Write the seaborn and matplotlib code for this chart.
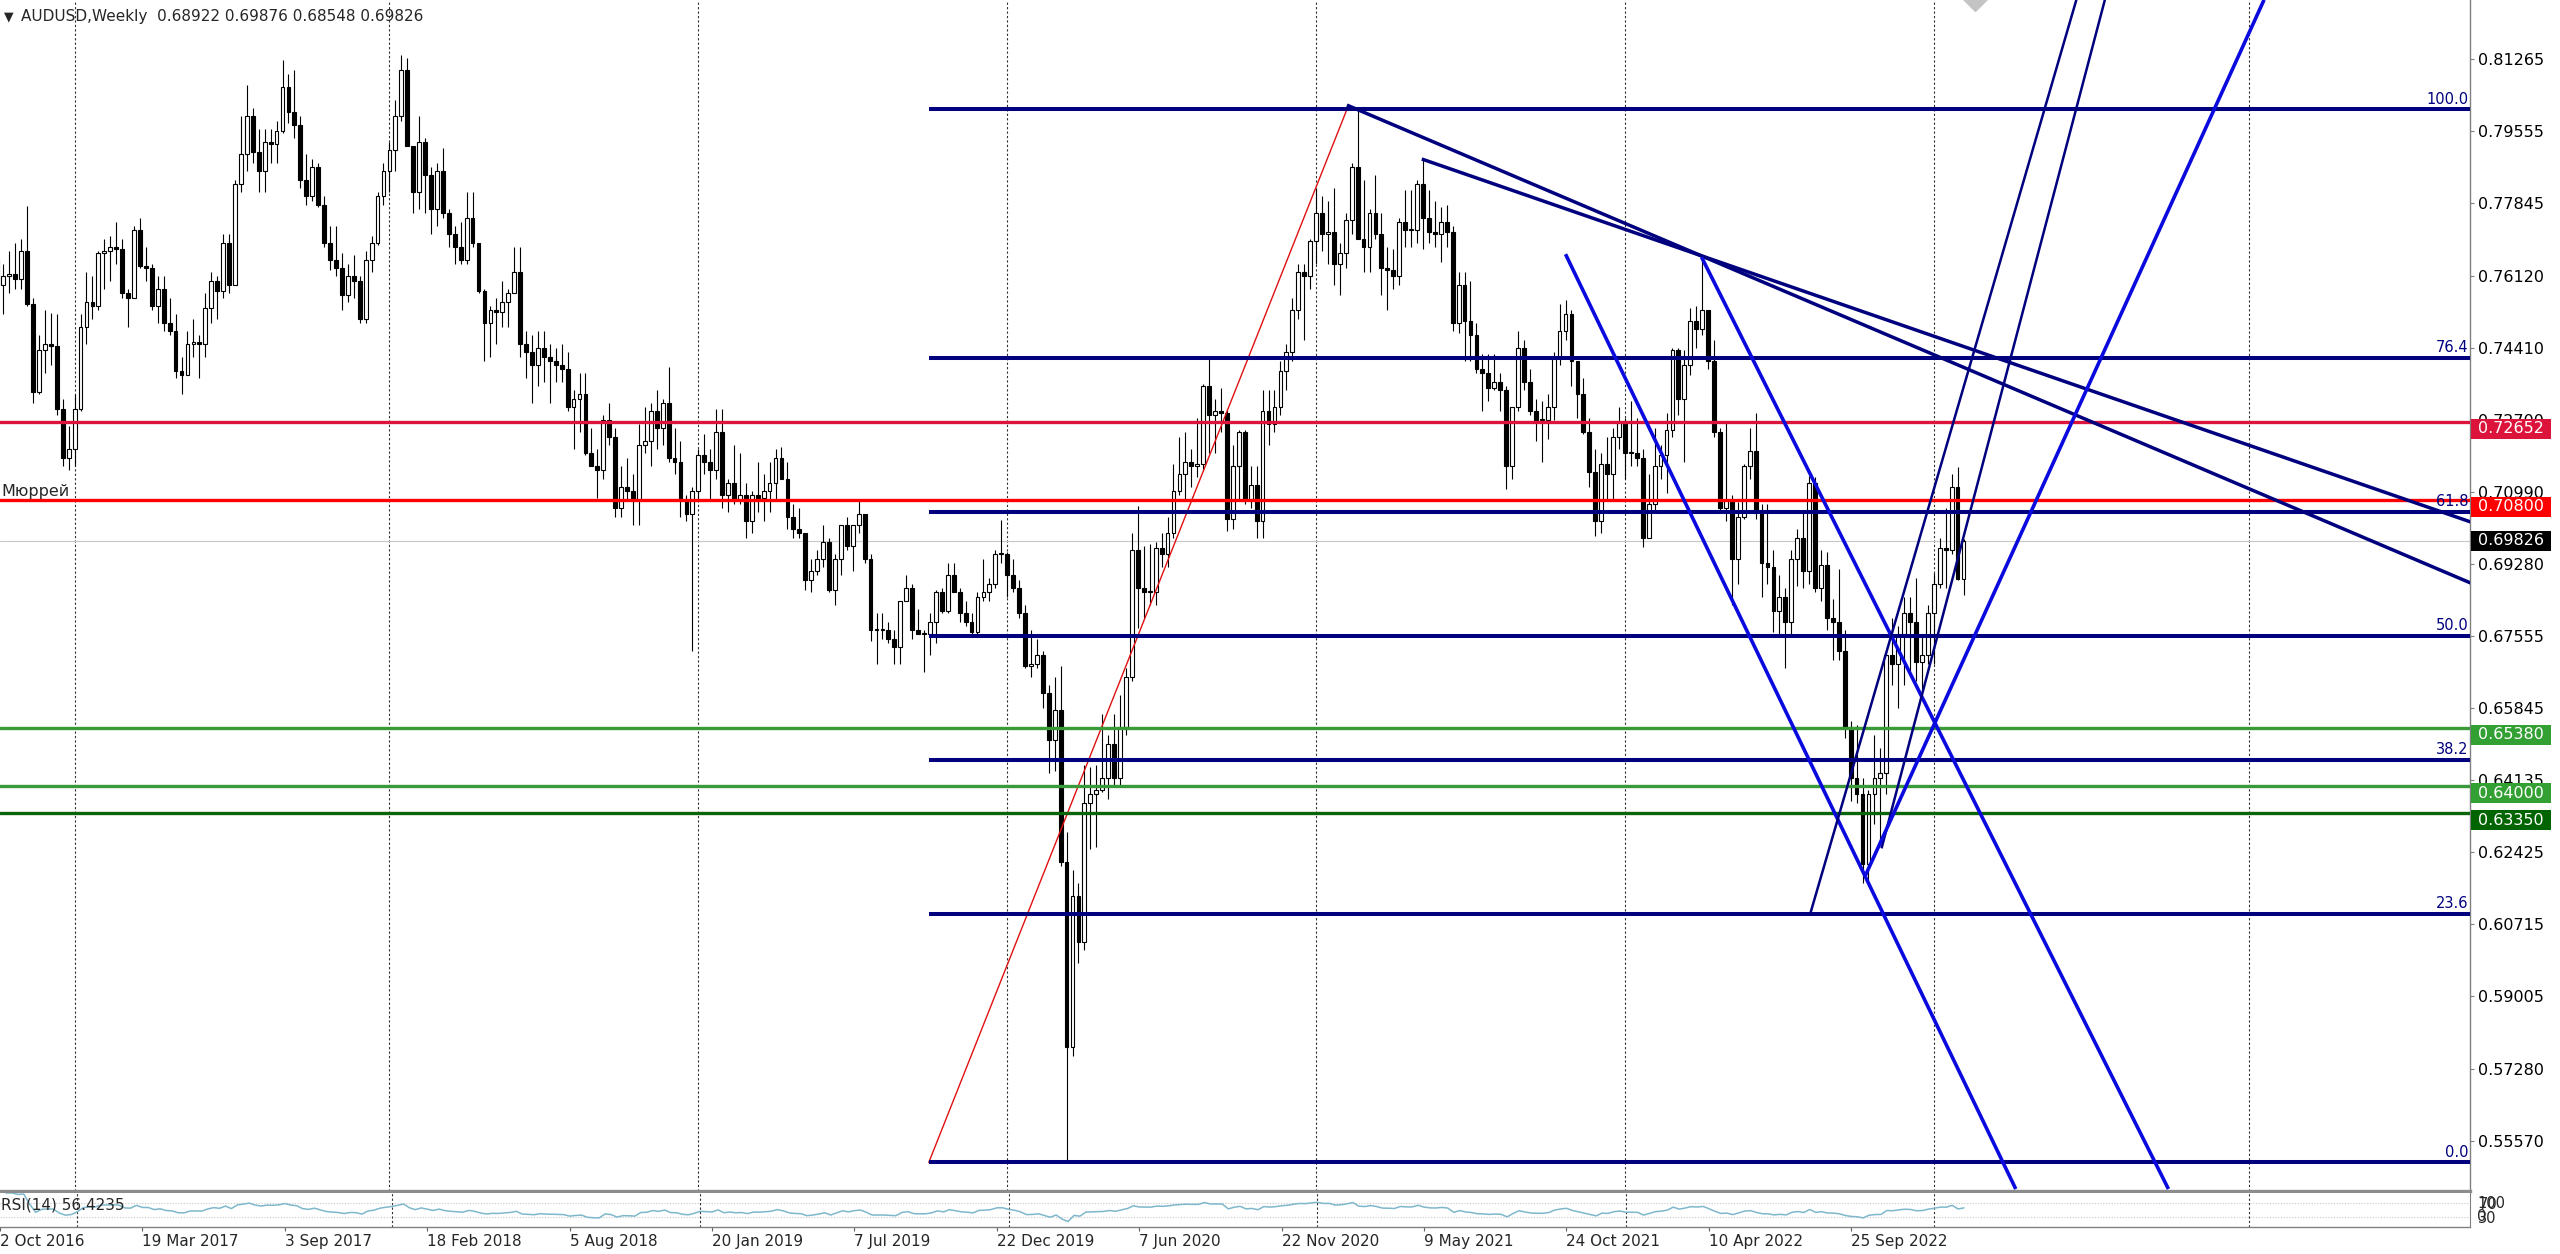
import numpy as np
import pandas as pd
import matplotlib
matplotlib.use("Agg")
import matplotlib.pyplot as plt
from matplotlib.patches import Rectangle
from matplotlib.transforms import blended_transform_factory
import seaborn as sns

# weekly AUDUSD bars, first bar on this Sunday
first_week = "2016-10-02"
first_open = 0.7650

closes = [
    # 2016
    0.7590, 0.7610, 0.7615, 0.7605, 0.7670, 0.7545, 0.7335, 0.7435, 0.7450, 0.7445,
    0.7295, 0.7180, 0.7200,
    # 2017
    0.7295, 0.7490, 0.7550, 0.7540, 0.7665, 0.7670, 0.7680,
    0.7675, 0.7570, 0.7560, 0.7720, 0.7635, 0.7630, 0.7540, 0.7580, 0.7500, 0.7480,
    0.7385, 0.7375, 0.7450, 0.7455, 0.7450, 0.7535, 0.7600, 0.7575, 0.7690, 0.7590,
    0.7830, 0.7900, 0.7990, 0.7905, 0.7860, 0.7930, 0.7925, 0.7955, 0.8060, 0.8000,
    0.7970, 0.7840, 0.7800, 0.7870, 0.7780, 0.7690, 0.7650, 0.7630, 0.7565, 0.7610,
    0.7600, 0.7510, 0.7650, 0.7690, 0.7800,
    # 2018
    0.7860, 0.7910, 0.7990, 0.8100, 0.7920,
    0.7810, 0.7930, 0.7850, 0.7770, 0.7860, 0.7760, 0.7710, 0.7680, 0.7650, 0.7750,
    0.7690, 0.7575, 0.7500, 0.7530, 0.7525, 0.7550, 0.7570, 0.7620, 0.7450, 0.7430,
    0.7400, 0.7440, 0.7420, 0.7410, 0.7400, 0.7390, 0.7300, 0.7320, 0.7330, 0.7190,
    0.7160, 0.7150, 0.7270, 0.7230, 0.7060, 0.7110, 0.7100, 0.7080, 0.7210, 0.7220,
    0.7290, 0.7250, 0.7310, 0.7180, 0.7170, 0.7080, 0.7045, 0.7100,
    # 2019
    0.7185, 0.7170,
    0.7150, 0.7240, 0.7090, 0.7120, 0.7080, 0.7090, 0.7030, 0.7090, 0.7085, 0.7100,
    0.7120, 0.7180, 0.7130, 0.7040, 0.7010, 0.7000, 0.6890, 0.6910, 0.6940, 0.6980,
    0.6865, 0.6940, 0.7020, 0.6970, 0.7020, 0.7045, 0.6940, 0.6770, 0.6770, 0.6770,
    0.6750, 0.6730, 0.6840, 0.6870, 0.6770, 0.6760, 0.6760, 0.6790, 0.6860, 0.6815,
    0.6900, 0.6860, 0.6810, 0.6790, 0.6765, 0.6850, 0.6860, 0.6880, 0.6950, 0.6950,
    # 2020
    0.6900, 0.6870, 0.6810, 0.6685, 0.6690, 0.6710, 0.6620, 0.6510, 0.6580, 0.6220,
    0.5780, 0.6140, 0.6030, 0.6360, 0.6380, 0.6390, 0.6420, 0.6500, 0.6420, 0.6540,
    0.6660, 0.6960, 0.6870, 0.6860, 0.6860, 0.6965, 0.6950, 0.7000, 0.7100, 0.7140,
    0.7170, 0.7160, 0.7165, 0.7350, 0.7280, 0.7290, 0.7285, 0.7035, 0.7160, 0.7240,
    0.7080, 0.7115, 0.7030, 0.7290, 0.7260, 0.7300, 0.7385, 0.7430, 0.7530, 0.7620,
    0.7610, 0.7695,
    # 2021
    0.7760, 0.7710, 0.7715, 0.7640, 0.7665, 0.7745, 0.7870, 0.7700,
    0.7680, 0.7760, 0.7710, 0.7630, 0.7625, 0.7610, 0.7740, 0.7720, 0.7720, 0.7830,
    0.7750, 0.7715, 0.7710, 0.7740, 0.7715, 0.7500, 0.7590, 0.7505, 0.7470, 0.7390,
    0.7380, 0.7345, 0.7360, 0.7340, 0.7160, 0.7300, 0.7440, 0.7360, 0.7290, 0.7270,
    0.7270, 0.7300, 0.7420, 0.7480, 0.7520, 0.7410, 0.7330, 0.7240, 0.7145, 0.7030,
    0.7165, 0.7140, 0.7230, 0.7265,
    # 2022
    0.7190, 0.7190, 0.7180, 0.6990, 0.7070, 0.7160,
    0.7185, 0.7245, 0.7435, 0.7320, 0.7400, 0.7505, 0.7485, 0.7530, 0.7410, 0.7240,
    0.7060, 0.7080, 0.6940, 0.7040, 0.7160, 0.7195, 0.7050, 0.6930, 0.6920, 0.6815,
    0.6850, 0.6790, 0.6940, 0.6990, 0.6910, 0.7120, 0.6870, 0.6925, 0.6800, 0.6790,
    0.6720, 0.6540, 0.6420, 0.6380, 0.6215, 0.6380, 0.6420, 0.6430, 0.6710, 0.6690,
    0.6760, 0.6810, 0.6790, 0.6695, 0.6710, 0.6810,
    # 2023
    0.6880, 0.6965, 0.6960, 0.7110,
    0.6892, 0.69826,
]

highs = [
    0.7733, 0.7640, 0.7670, 0.7690, 0.7700, 0.7778, 0.7560, 0.7470, 0.7530, 0.7523,
    0.7520, 0.7320, 0.7255, 0.7330, 0.7520, 0.7620, 0.7610, 0.7670, 0.7700, 0.7705,
    0.7740, 0.7700, 0.7580, 0.7730, 0.7750, 0.7680, 0.7640, 0.7610, 0.7610, 0.7560,
    0.7520, 0.7420, 0.7480, 0.7510, 0.7470, 0.7570, 0.7620, 0.7610, 0.7710, 0.7710,
    0.7840, 0.7990, 0.8065, 0.8010, 0.7960, 0.7960, 0.7960, 0.7980, 0.8125, 0.8090,
    0.8100, 0.7990, 0.7900, 0.7890, 0.7880, 0.7800, 0.7730, 0.7730, 0.7665, 0.7640,
    0.7660, 0.7610, 0.7670, 0.7705, 0.7810, 0.7880, 0.7930, 0.8030, 0.8136, 0.8130,
    0.7920, 0.7990, 0.7940, 0.7870, 0.7880, 0.7915, 0.7770, 0.7730, 0.7740, 0.7810,
    0.7810, 0.7690, 0.7580, 0.7540, 0.7560, 0.7600, 0.7580, 0.7680, 0.7680, 0.7480,
    0.7470, 0.7480, 0.7480, 0.7450, 0.7440, 0.7450, 0.7430, 0.7340, 0.7380, 0.7380,
    0.7250, 0.7200, 0.7280, 0.7310, 0.7250, 0.7160, 0.7180, 0.7140, 0.7260, 0.7300,
    0.7310, 0.7340, 0.7320, 0.7394, 0.7250, 0.7220, 0.7090, 0.7110, 0.7200, 0.7235,
    0.7200, 0.7295, 0.7295, 0.7130, 0.7210, 0.7190, 0.7120, 0.7100, 0.7170, 0.7140,
    0.7170, 0.7200, 0.7205, 0.7170, 0.7070, 0.7060, 0.7000, 0.6940, 0.6960, 0.7020,
    0.6990, 0.6950, 0.7010, 0.7040, 0.7020, 0.7080, 0.7040, 0.6950, 0.6810, 0.6810,
    0.6790, 0.6770, 0.6840, 0.6900, 0.6880, 0.6820, 0.6770, 0.6810, 0.6865, 0.6870,
    0.6930, 0.6930, 0.6870, 0.6840, 0.6810, 0.6860, 0.6940, 0.6895, 0.6960, 0.7032,
    0.6955, 0.6940, 0.6890, 0.6830, 0.6770, 0.6750, 0.6720, 0.6640, 0.6660, 0.6685,
    0.6290, 0.6200, 0.6170, 0.6450, 0.6445, 0.6450, 0.6570, 0.6520, 0.6570, 0.6615,
    0.6680, 0.7000, 0.7065, 0.6970, 0.6975, 0.6980, 0.7000, 0.7040, 0.7165, 0.7230,
    0.7240, 0.7200, 0.7275, 0.7355, 0.7415, 0.7320, 0.7345, 0.7295, 0.7210, 0.7245,
    0.7245, 0.7160, 0.7160, 0.7340, 0.7340, 0.7340, 0.7410, 0.7450, 0.7560, 0.7640,
    0.7640, 0.7700, 0.7820, 0.7800, 0.7790, 0.7820, 0.7690, 0.7760, 0.7880, 0.8007,
    0.7840, 0.7770, 0.7850, 0.7760, 0.7680, 0.7675, 0.7750, 0.7815, 0.7815, 0.7840,
    0.7890, 0.7815, 0.7790, 0.7775, 0.7780, 0.7730, 0.7620, 0.7620, 0.7600, 0.7500,
    0.7425, 0.7425, 0.7425, 0.7380, 0.7350, 0.7300, 0.7480, 0.7460, 0.7390, 0.7320,
    0.7315, 0.7330, 0.7430, 0.7545, 0.7555, 0.7530, 0.7370, 0.7370, 0.7275, 0.7200,
    0.7190, 0.7230, 0.7250, 0.7300, 0.7275, 0.7315, 0.7275, 0.7200, 0.7140, 0.7250,
    0.7210, 0.7285, 0.7440, 0.7440, 0.7435, 0.7535, 0.7540, 0.7660, 0.7500, 0.7460,
    0.7250, 0.7265, 0.7090, 0.7075, 0.7165, 0.7250, 0.7285, 0.7070, 0.7070, 0.6960,
    0.6900, 0.6870, 0.6960, 0.7010, 0.7050, 0.7137, 0.7135, 0.6960, 0.6955, 0.6845,
    0.6915, 0.6770, 0.6555, 0.6545, 0.6420, 0.6390, 0.6520, 0.6490, 0.6720, 0.6800,
    0.6780, 0.6850, 0.6850, 0.6895, 0.6755, 0.6830, 0.6905, 0.6990, 0.7060, 0.7140,
    0.7158, 0.69876,
]

lows = [
    0.7560, 0.7520, 0.7570, 0.7580, 0.7580, 0.7540, 0.7310, 0.7330, 0.7380, 0.7400,
    0.7280, 0.7160, 0.7150, 0.7160, 0.7290, 0.7450, 0.7510, 0.7530, 0.7580, 0.7600,
    0.7640, 0.7560, 0.7490, 0.7560, 0.7630, 0.7600, 0.7530, 0.7500, 0.7480, 0.7470,
    0.7370, 0.7330, 0.7375, 0.7420, 0.7370, 0.7420, 0.7500, 0.7510, 0.7560, 0.7570,
    0.7590, 0.7810, 0.7860, 0.7880, 0.7810, 0.7810, 0.7880, 0.7880, 0.7950, 0.7975,
    0.7940, 0.7820, 0.7780, 0.7790, 0.7775, 0.7680, 0.7625, 0.7610, 0.7530, 0.7550,
    0.7560, 0.7500, 0.7500, 0.7620, 0.7685, 0.7780, 0.7810, 0.7860, 0.7980, 0.7920,
    0.7760, 0.7770, 0.7760, 0.7710, 0.7730, 0.7750, 0.7680, 0.7640, 0.7640, 0.7640,
    0.7680, 0.7570, 0.7410, 0.7420, 0.7450, 0.7490, 0.7490, 0.7570, 0.7420, 0.7370,
    0.7310, 0.7350, 0.7360, 0.7310, 0.7360, 0.7360, 0.7290, 0.7200, 0.7240, 0.7185,
    0.7160, 0.7085, 0.7130, 0.7210, 0.7040, 0.7040, 0.7080, 0.7020, 0.7020, 0.7190,
    0.7160, 0.7200, 0.7210, 0.7170, 0.7140, 0.7040, 0.7030, 0.6720, 0.7080, 0.7140,
    0.7080, 0.7130, 0.7060, 0.7050, 0.7070, 0.7070, 0.6990, 0.7000, 0.7050, 0.7030,
    0.7050, 0.7080, 0.7130, 0.7010, 0.6990, 0.6990, 0.6865, 0.6860, 0.6900, 0.6920,
    0.6860, 0.6830, 0.6900, 0.6960, 0.6910, 0.7000, 0.6930, 0.6745, 0.6690, 0.6750,
    0.6740, 0.6690, 0.6690, 0.6840, 0.6750, 0.6760, 0.6670, 0.6710, 0.6740, 0.6810,
    0.6810, 0.6860, 0.6790, 0.6780, 0.6755, 0.6760, 0.6840, 0.6840, 0.6870, 0.6930,
    0.6850, 0.6860, 0.6800, 0.6680, 0.6660, 0.6680, 0.6585, 0.6430, 0.6435, 0.6210,
    0.5506, 0.5760, 0.5980, 0.6010, 0.6250, 0.6255, 0.6385, 0.6370, 0.6400, 0.6400,
    0.6520, 0.6650, 0.6775, 0.6800, 0.6830, 0.6830, 0.6920, 0.6920, 0.6990, 0.7090,
    0.7080, 0.7110, 0.7135, 0.7150, 0.7190, 0.7190, 0.7240, 0.7005, 0.7010, 0.7080,
    0.7070, 0.7060, 0.6990, 0.6990, 0.7210, 0.7240, 0.7280, 0.7340, 0.7410, 0.7510,
    0.7460, 0.7580, 0.7640, 0.7670, 0.7640, 0.7590, 0.7565, 0.7630, 0.7710, 0.7700,
    0.7620, 0.7620, 0.7700, 0.7565, 0.7530, 0.7580, 0.7590, 0.7680, 0.7680, 0.7690,
    0.7675, 0.7690, 0.7680, 0.7645, 0.7680, 0.7480, 0.7475, 0.7410, 0.7410, 0.7380,
    0.7290, 0.7315, 0.7340, 0.7290, 0.7105, 0.7130, 0.7290, 0.7340, 0.7280, 0.7220,
    0.7170, 0.7225, 0.7270, 0.7400, 0.7460, 0.7350, 0.7275, 0.7235, 0.7110, 0.6993,
    0.7000, 0.7080, 0.7080, 0.7200, 0.7130, 0.7160, 0.7160, 0.6968, 0.6990, 0.7050,
    0.7130, 0.7095, 0.7230, 0.7280, 0.7170, 0.7375, 0.7440, 0.7470, 0.7390, 0.7230,
    0.7055, 0.7030, 0.6830, 0.6880, 0.7035, 0.7130, 0.7035, 0.6850, 0.6880, 0.6765,
    0.6760, 0.6680, 0.6755, 0.6875, 0.6870, 0.6880, 0.6860, 0.6840, 0.6770, 0.6700,
    0.6700, 0.6515, 0.6365, 0.6360, 0.6170, 0.6170, 0.6310, 0.6270, 0.6380, 0.6640,
    0.6585, 0.6640, 0.6670, 0.6650, 0.6630, 0.6690, 0.6690, 0.6870, 0.6870, 0.6950,
    0.6890, 0.68548,
]

# fibonacci retracement drawn from the 2020 low to the 2021 high
fib_low = 0.5506
fib_high = 0.8007
fib_pcts = [0.0, 23.6, 38.2, 50.0, 61.8, 76.4, 100.0]
fib_from_bar = 156.8
fib_to_bar = 227.2

# horizontal levels with their price-scale tags
level_prices = [0.72652, 0.70800, 0.65380, 0.64000, 0.63350]
level_line_colors = ["#dc143c", "#ff0000", "#3a9a3a", "#3a9a3a", "#0a640a"]
level_box_colors = ["#dc143c", "#ff0000", "#32a032", "#32a032", "#006400"]
current_price = 0.69826

# trend lines: (bar, price) anchors
trend_bar_from = [227.2, 239.8, 264.0, 286.9, 305.1, 317.2, 314.4]
trend_px_from = [0.8017, 0.7889, 0.7663, 0.7656, 0.6092, 0.6252, 0.6185]
trend_bar_to = [416.4, 416.4, 339.8, 365.5, 350.0, 354.8, 381.6]
trend_px_to = [0.6882, 0.7027, 0.5443, 0.5443, 0.8267, 0.8267, 0.8267]

price_ticks = [0.81265, 0.79555, 0.77845, 0.76120, 0.74410, 0.72700, 0.70990, 0.69280,
               0.67555, 0.65845, 0.64135, 0.62425, 0.60715, 0.59005, 0.57280, 0.55570]
date_labels = ["2 Oct 2016", "19 Mar 2017", "3 Sep 2017", "18 Feb 2018", "5 Aug 2018",
               "20 Jan 2019", "7 Jul 2019", "22 Dec 2019", "7 Jun 2020", "22 Nov 2020",
               "9 May 2021", "24 Oct 2021", "10 Apr 2022", "25 Sep 2022"]
header = "AUDUSD,Weekly  0.68922 0.69876 0.68548 0.69826"
rsi_caption = "RSI(14) 56.4235"
murrey_caption = "Мюррей"
marker_bar, marker_price = 332.9, 0.8271

# ---- layout (pixels) ----
W, H = 2560, 1254
plot_right = 2470
main_bottom = 1191
rsi_top, rsi_bottom = 1193, 1227
x_left, x_right = 0.438, 416.27
price_top, price_bottom = 0.82666, 0.54383
px = (price_top - price_bottom) / main_bottom

NAVY = "#00007f"
BLUE = "#0a0ade"
trend_colors = [NAVY, NAVY, BLUE, BLUE, NAVY, NAVY, BLUE]
trend_widths = [2.5, 2.5, 2.6, 2.6, 1.8, 1.8, 2.6]

sns.set_style("white")
plt.rcParams["font.family"] = ["DejaVu Sans"]

n = len(closes)
dates = pd.date_range(first_week, periods=n, freq="W-SUN")
df = pd.DataFrame({"date": dates, "close": closes, "high": highs, "low": lows})
df["open"] = [first_open] + closes[:-1]
df["bar"] = np.arange(n)
df["high"] = df[["high", "open", "close"]].max(axis=1)
df["low"] = df[["low", "open", "close"]].min(axis=1)

delta = df["close"].diff()
gain = delta.clip(lower=0).ewm(alpha=1 / 14, adjust=False).mean()
loss = (-delta.clip(upper=0)).ewm(alpha=1 / 14, adjust=False).mean()
df["rsi"] = 100 - 100 / (1 + gain / loss)

fig = plt.figure(figsize=(W / 100, H / 100), dpi=100)
fig.patch.set_facecolor("white")
ax = fig.add_axes([0, (H - main_bottom) / H, plot_right / W, main_bottom / H])
rax = fig.add_axes([0, (H - rsi_bottom) / H, plot_right / W, (rsi_bottom - rsi_top) / H])

# candles
rising = df["close"] >= df["open"]
body = (df["close"] - df["open"]).abs().clip(lower=0.00025)
body_bottom = df[["open", "close"]].min(axis=1)
ax.vlines(df["bar"], df["low"], df["high"], color="black", lw=0.8, zorder=2)
ax.bar(df["bar"][rising], body[rising], bottom=body_bottom[rising], width=0.64,
       color="white", edgecolor="black", linewidth=0.8, zorder=3)
ax.bar(df["bar"][~rising], body[~rising], bottom=body_bottom[~rising], width=0.64,
       color="black", edgecolor="black", linewidth=0.8, zorder=3)

# year separators
axis_dates = pd.date_range(first_week, periods=int(x_right) + 2, freq="W-SUN")
year_starts = [i for i in range(1, len(axis_dates)) if axis_dates[i].year != axis_dates[i - 1].year]
for a in (ax, rax):
    for s in year_starts:
        a.axvline(s, color="#303030", lw=0.8, ls=(0, (2, 2)), zorder=1)

ax.axhline(current_price, color="#c8c8c8", lw=0.8, zorder=1)

for p, c in zip(level_prices, level_line_colors):
    ax.axhline(p, color=c, lw=2.4, zorder=6)

fib_prices = [fib_low + (fib_high - fib_low) * q / 100 for q in fib_pcts]
ax.hlines(fib_prices, fib_from_bar, x_right, color=NAVY, lw=2.9, zorder=6)
ax.plot([fib_from_bar, fib_to_bar], [fib_low, fib_high], color="#e01010", lw=1.0, zorder=5)
for q, p in zip(fib_pcts, fib_prices):
    ax.annotate(f"{q:.1f}", xy=(x_right, p), xytext=(-1, 2), textcoords="offset points",
                ha="right", va="bottom", color=NAVY, fontsize=10.5, zorder=8)

for x0, y0, x1, y1, c, w in zip(trend_bar_from, trend_px_from, trend_bar_to, trend_px_to,
                                trend_colors, trend_widths):
    ax.plot([x0, x1], [y0, y1], color=c, lw=w, solid_capstyle="butt", zorder=7)

ax.plot([marker_bar], [marker_price], marker="D", ms=13, color="#c4c4c4", zorder=4)

tr = blended_transform_factory(ax.transAxes, ax.transData)
ax.annotate(murrey_caption, xy=(0, 0.70800), xycoords=tr, xytext=(1, 3),
            textcoords="offset points", ha="left", va="baseline", fontsize=11.5, zorder=9)

# price tags on the scale
box_w = 80 / plot_right
box_h = 20 * px
tags = [(p, c, p - 7 * px) for p, c in zip(level_prices, level_box_colors)]
tags.append((current_price, "black", current_price))
for p, c, yc in tags:
    ax.add_patch(Rectangle((1 + 1 / plot_right, yc - box_h / 2), box_w, box_h, transform=tr,
                           facecolor=c, edgecolor="none", clip_on=False, zorder=10))
    ax.text(1 + 41 / plot_right, yc, f"{p:.5f}", transform=tr, ha="center", va="center",
            color="white", fontsize=11.5, zorder=11, clip_on=False)

ax.set_xlim(x_left, x_right)
ax.set_ylim(price_bottom, price_top)
ax.set_xticks([])
ax.yaxis.tick_right()
ax.set_yticks(price_ticks)
ax.set_yticklabels([f"{t:.5f}" for t in price_ticks])
ax.tick_params(axis="y", direction="out", length=3, width=0.8, color="#808080",
               labelsize=11.5, pad=3, labelcolor="black", left=False, right=True)
for side in ("left", "top"):
    ax.spines[side].set_visible(False)
ax.spines["right"].set_color("#808080")
ax.spines["right"].set_linewidth(1.0)
ax.spines["bottom"].set_color("#8c8c8c")
ax.spines["bottom"].set_linewidth(2.4)

# RSI window
sns.lineplot(data=df, x="bar", y="rsi", ax=rax, color="#7fb8cc", lw=1.1)
rax.set_xlabel("")
rax.set_ylabel("")
rax.set_xlim(x_left, x_right)
rax.set_ylim(0, 100)
for lvl in (70, 30):
    rax.axhline(lvl, color="#c8c8c8", lw=0.8, ls=(0, (1, 1.5)), zorder=0)
rax.yaxis.tick_right()
rax.set_yticks([70, 30])
rax.set_yticklabels(["70", "30"])
rax.tick_params(axis="y", length=0, labelsize=10.5, pad=6, left=False, right=True)
rsi_tr = blended_transform_factory(rax.transAxes, rax.transData)
for q in (70, 30):
    rax.text(1 + 7 / plot_right, q, "100" if q == 70 else "0", transform=rsi_tr,
             ha="left", va="center", fontsize=10.5)
label_bars = dates.get_indexer(pd.to_datetime(date_labels, format="%d %b %Y"))
rax.set_xticks(label_bars)
rax.set_xticklabels(date_labels, ha="left", fontsize=11)
rax.tick_params(axis="x", length=3, width=0.8, color="#606060", pad=2, bottom=True)
rax.spines["left"].set_visible(False)
rax.spines["top"].set_visible(False)
rax.spines["right"].set_color("#808080")
rax.spines["bottom"].set_color("#808080")
rax.spines["bottom"].set_linewidth(1.0)
rax.text(1 / plot_right, 0.65, rsi_caption, transform=rax.transAxes, ha="left", va="center",
         fontsize=11, zorder=5)

fig.text(4 / W, 1 - 17 / H, "▼", fontsize=9, va="center")
fig.text(21 / W, 1 - 17 / H, header, fontsize=11, va="center")

fig.savefig("out.png", dpi=100, facecolor="white")
